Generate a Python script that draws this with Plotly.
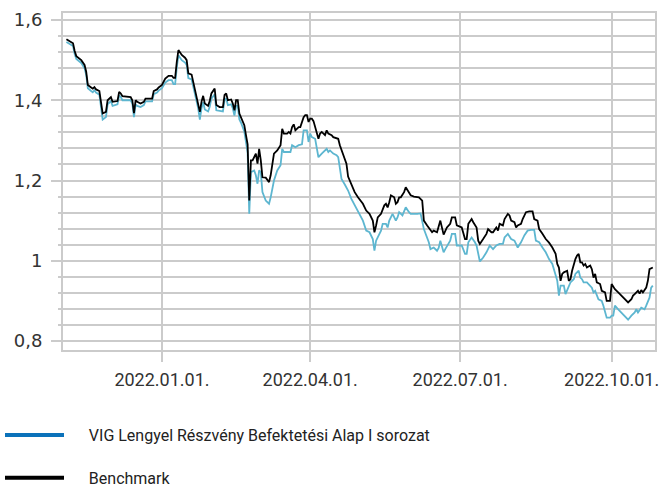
import pandas as pd
import plotly.graph_objects as go

# Day offsets relative to 2022-01-01 and values
base_date = "2022-01-01"

bench_day = [-58, -56, -54, -53, -52, -49, -47, -46, -45, -43, -42, -41, -40, -38, -37, -36, -34, -33, -31, -30,
             -27, -26, -25, -24, -19, -18, -17, -16, -15, -13, -11, -10, -6, -5, -3, -2, 0, 2, 4, 6,
             7, 8, 9, 10, 12, 14, 15, 16, 18, 19, 20, 22, 23, 24, 25, 26, 28, 29, 30, 32,
             33, 35, 37, 38, 39, 40, 42, 43, 44, 45, 46, 47, 48, 50, 51, 52, 53, 54, 55, 56,
             57, 58, 59, 60, 61, 63, 64, 65, 66, 68, 70, 72, 73, 74, 76, 77, 78, 79, 80, 81,
             83, 84, 86, 87, 88, 89, 90, 91, 92, 93, 95, 96, 97, 99, 100, 101, 103, 104, 107, 108,
             110, 112, 113, 115, 117, 119, 121, 122, 124, 126, 128, 129, 130, 131, 133, 135, 136, 137, 138, 139,
             141, 142, 143, 144, 145, 147, 148, 150, 151, 153, 156, 158, 159, 161, 162, 164, 165, 167, 169, 171,
             173, 175, 176, 178, 179, 182, 184, 185, 186, 188, 189, 191, 192, 193, 195, 197, 198, 200, 201, 203,
             204, 205, 207, 208, 210, 211, 212, 214, 215, 216, 218, 219, 221, 223, 225, 226, 228, 229, 231, 233,
             235, 237, 239, 240, 241, 242, 243, 244, 246, 247, 248, 249, 251, 252, 253, 254, 255, 256, 257, 258,
             260, 261, 262, 263, 264, 266, 267, 269, 270, 272, 273, 275, 277, 279, 281, 282, 283, 285, 286, 287,
             289, 290, 291, 292, 294, 295, 296, 298]
bench_val = [1.552, 1.548, 1.542, 1.523, 1.510, 1.500, 1.488, 1.471, 1.438, 1.432, 1.429, 1.433, 1.427, 1.423, 1.390, 1.367, 1.371, 1.400, 1.408, 1.396,
             1.398, 1.421, 1.417, 1.410, 1.408, 1.400, 1.368, 1.400, 1.396, 1.392, 1.396, 1.404, 1.404, 1.423, 1.427, 1.432, 1.438, 1.454, 1.461, 1.461,
             1.456, 1.456, 1.496, 1.525, 1.513, 1.506, 1.500, 1.467, 1.464, 1.446, 1.429, 1.396, 1.371, 1.396, 1.411, 1.392, 1.386, 1.398, 1.417, 1.429,
             1.388, 1.383, 1.383, 1.413, 1.417, 1.400, 1.402, 1.392, 1.375, 1.400, 1.400, 1.367, 1.358, 1.338, 1.313, 1.290, 1.150, 1.250, 1.250, 1.258,
             1.267, 1.242, 1.279, 1.250, 1.208, 1.207, 1.200, 1.196, 1.213, 1.267, 1.275, 1.288, 1.329, 1.317, 1.317, 1.321, 1.317, 1.333, 1.340, 1.325,
             1.333, 1.333, 1.358, 1.363, 1.363, 1.346, 1.354, 1.354, 1.348, 1.333, 1.304, 1.317, 1.321, 1.313, 1.325, 1.317, 1.313, 1.308, 1.304, 1.288,
             1.263, 1.242, 1.210, 1.192, 1.171, 1.158, 1.146, 1.142, 1.125, 1.117, 1.100, 1.071, 1.088, 1.108, 1.117, 1.138, 1.142, 1.133, 1.146, 1.163,
             1.158, 1.142, 1.146, 1.158, 1.158, 1.171, 1.183, 1.167, 1.163, 1.160, 1.158, 1.150, 1.100, 1.088, 1.083, 1.071, 1.075, 1.071, 1.100, 1.065,
             1.083, 1.092, 1.108, 1.108, 1.088, 1.083, 1.054, 1.054, 1.092, 1.104, 1.096, 1.083, 1.050, 1.042, 1.054, 1.067, 1.079, 1.071, 1.071, 1.083,
             1.075, 1.092, 1.088, 1.104, 1.117, 1.113, 1.100, 1.096, 1.083, 1.088, 1.092, 1.104, 1.121, 1.123, 1.123, 1.104, 1.100, 1.079, 1.067, 1.054,
             1.045, 1.033, 1.017, 0.992, 0.983, 0.950, 0.967, 0.971, 0.975, 0.950, 0.954, 0.975, 1.004, 1.013, 1.017, 0.996, 0.996, 0.988, 0.992, 0.983,
             0.988, 0.979, 0.958, 0.967, 0.946, 0.942, 0.925, 0.921, 0.900, 0.900, 0.942, 0.929, 0.921, 0.913, 0.904, 0.900, 0.896, 0.904, 0.913, 0.917,
             0.925, 0.918, 0.927, 0.921, 0.933, 0.950, 0.979, 0.983]

fund_day = [-58, -56, -54, -53, -52, -49, -47, -46, -45, -43, -42, -41, -40, -38, -37, -36, -34, -33, -31, -30,
            -27, -26, -25, -24, -19, -18, -17, -16, -15, -13, -11, -10, -6, -5, -3, -2, 0, 2, 4, 6,
            7, 8, 9, 10, 12, 14, 15, 16, 18, 19, 20, 22, 23, 24, 25, 26, 28, 29, 30, 32,
            33, 37, 38, 39, 40, 42, 43, 44, 45, 46, 47, 48, 50, 51, 52, 53, 54, 56, 57, 58,
            59, 60, 61, 63, 65, 66, 68, 70, 72, 73, 74, 78, 79, 81, 83, 85, 86, 88, 89, 90,
            91, 93, 94, 95, 97, 98, 100, 101, 102, 104, 106, 107, 109, 111, 113, 115, 117, 119, 121, 122,
            124, 126, 128, 129, 130, 132, 133, 134, 136, 137, 138, 140, 142, 143, 144, 146, 147, 148, 150, 151,
            155, 157, 159, 161, 162, 163, 165, 167, 168, 169, 171, 172, 174, 175, 176, 178, 179, 182, 184, 185,
            186, 188, 190, 191, 193, 195, 197, 199, 201, 203, 205, 207, 208, 210, 212, 214, 216, 218, 220, 222,
            224, 226, 227, 229, 231, 233, 235, 237, 240, 241, 242, 244, 245, 247, 248, 250, 251, 253, 254, 255,
            256, 258, 259, 261, 262, 263, 265, 267, 268, 270, 272, 273, 274, 275, 277, 279, 281, 283, 285, 287,
            288, 289, 291, 293, 294, 296, 297, 298]
fund_val = [1.545, 1.540, 1.535, 1.515, 1.503, 1.493, 1.480, 1.463, 1.430, 1.423, 1.420, 1.425, 1.419, 1.414, 1.380, 1.352, 1.358, 1.390, 1.398, 1.386,
            1.390, 1.412, 1.408, 1.400, 1.400, 1.392, 1.358, 1.390, 1.386, 1.383, 1.388, 1.397, 1.397, 1.415, 1.419, 1.424, 1.430, 1.444, 1.450, 1.450,
            1.440, 1.440, 1.482, 1.512, 1.500, 1.494, 1.488, 1.455, 1.452, 1.433, 1.415, 1.380, 1.352, 1.380, 1.395, 1.377, 1.372, 1.384, 1.404, 1.415,
            1.375, 1.372, 1.400, 1.405, 1.388, 1.390, 1.380, 1.362, 1.386, 1.386, 1.352, 1.344, 1.322, 1.297, 1.270, 1.117, 1.221, 1.225, 1.213, 1.192,
            1.225, 1.221, 1.171, 1.150, 1.142, 1.158, 1.200, 1.225, 1.238, 1.279, 1.271, 1.271, 1.288, 1.283, 1.288, 1.290, 1.325, 1.325, 1.296, 1.317,
            1.308, 1.304, 1.283, 1.258, 1.267, 1.271, 1.279, 1.271, 1.275, 1.267, 1.263, 1.258, 1.204, 1.190, 1.175, 1.154, 1.138, 1.125, 1.108, 1.100,
            1.075, 1.071, 1.054, 1.025, 1.050, 1.067, 1.075, 1.092, 1.092, 1.083, 1.100, 1.117, 1.100, 1.108, 1.121, 1.113, 1.121, 1.133, 1.121, 1.117,
            1.117, 1.118, 1.079, 1.058, 1.046, 1.029, 1.033, 1.025, 1.032, 1.050, 1.021, 1.029, 1.042, 1.050, 1.067, 1.067, 1.038, 1.038, 1.017, 1.017,
            1.046, 1.058, 1.046, 1.038, 0.998, 1.008, 1.021, 1.038, 1.029, 1.038, 1.042, 1.042, 1.058, 1.067, 1.054, 1.050, 1.033, 1.046, 1.063, 1.075,
            1.077, 1.077, 1.050, 1.046, 1.033, 1.021, 1.004, 0.992, 0.950, 0.913, 0.938, 0.938, 0.917, 0.938, 0.946, 0.954, 0.967, 0.975, 0.958, 0.954,
            0.946, 0.946, 0.942, 0.933, 0.921, 0.925, 0.904, 0.900, 0.888, 0.858, 0.858, 0.863, 0.863, 0.888, 0.879, 0.871, 0.863, 0.853, 0.863, 0.871,
            0.879, 0.871, 0.883, 0.879, 0.888, 0.908, 0.933, 0.938]

fund_name = "VIG Lengyel Részvény Befektetési Alap I sorozat"
bench_name = "Benchmark"

start = pd.Timestamp(base_date)
bench_x = start + pd.to_timedelta(bench_day, unit="D")
fund_x = start + pd.to_timedelta(fund_day, unit="D")

grid = "#cbcbcb"
text_font = "Roboto, sans-serif"
pad = "\u00a0" * 5  # gap between legend line and legend text

W, H = 659, 489

fig = go.Figure()
fig.add_trace(go.Scatter(x=fund_x, y=fund_val, mode="lines", name=fund_name,
                         line=dict(color="#5db6d0", width=1.8), showlegend=False))
fig.add_trace(go.Scatter(x=bench_x, y=bench_val, mode="lines", name=bench_name,
                         line=dict(color="#000000", width=1.8), showlegend=False))
# legend entries
fig.add_trace(go.Scatter(x=[None], y=[None], mode="lines", name=pad + fund_name, legendgroup="a",
                         line=dict(color="#0b72ba", width=4)))
fig.add_trace(go.Scatter(x=[None], y=[None], mode="lines", name=pad + bench_name, legendgroup="b",
                         line=dict(color="#000000", width=4)))

fig.update_layout(
    width=W, height=H,
    margin=dict(l=63, r=4, t=13, b=139, autoexpand=False),
    paper_bgcolor="white", plot_bgcolor="white",
    separators=", ",
    showlegend=True,
    legend=dict(xref="container", yref="container", x=0, xanchor="left",
                y=1 - 418 / H, yanchor="top",
                orientation="v", tracegroupgap=19, itemwidth=59,
                font=dict(family=text_font, size=16, color="#222222"),
                bgcolor="rgba(0,0,0,0)"),
    xaxis=dict(type="date", range=["2021-11-01 22:00", "2022-10-27 08:00"],
               tick0="2022-01-01", dtick="M3", tickformat="%Y.%m.%d.",
               ticks="outside", ticklen=10, tickwidth=2, tickcolor=grid,
               showgrid=True, gridcolor=grid, gridwidth=2,
               showline=True, mirror=True, linecolor=grid, linewidth=2,
               zeroline=False, automargin=False, ticklabeloverflow="allow",
               ticklabelstandoff=2,
               tickfont=dict(family=text_font, size=18, color="#333333")),
    yaxis=dict(range=[0.7775, 1.6175], tick0=0.8, dtick=0.2,
               ticks="outside", ticklen=10, tickwidth=2, tickcolor=grid,
               showgrid=True, gridcolor=grid, gridwidth=2,
               minor=dict(tick0=0.8, dtick=0.04, ticks="outside", ticklen=3, tickwidth=2,
                          tickcolor=grid, showgrid=True, gridcolor=grid, gridwidth=2),
               showline=True, mirror=True, linecolor=grid, linewidth=2,
               zeroline=False, ticklabelstandoff=5, automargin=False,
               tickfont=dict(family="DejaVu Sans", size=18, color="#333333")),
)

fig.write_html("out.html", config={"displayModeBar": False},
               post_script="document.body.style.margin='0';document.body.style.overflow='hidden';")
